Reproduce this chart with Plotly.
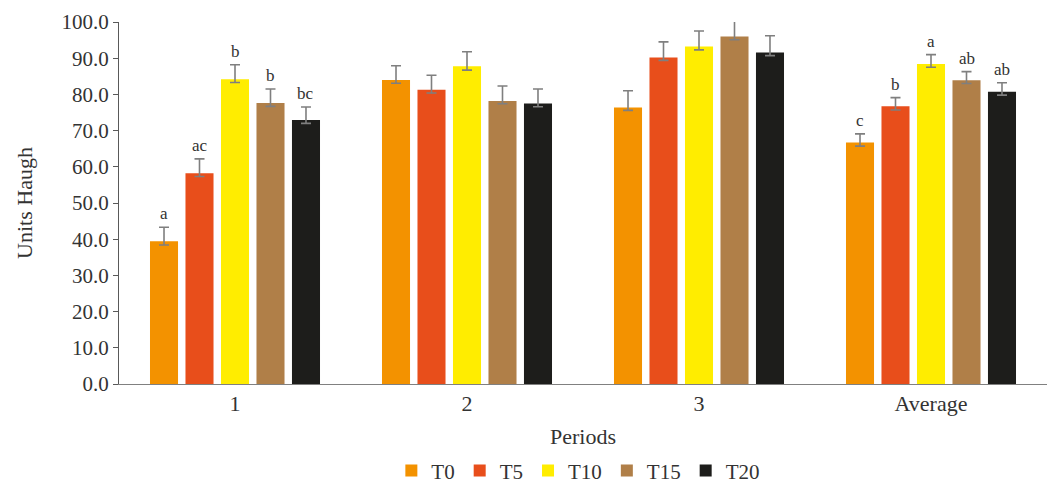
import plotly.graph_objects as go

periods = ["1", "2", "3", "Average"]
series = ["T0", "T5", "T10", "T15", "T20"]
colors = ["#F39200", "#E84E1B", "#FFED00", "#B07F48", "#1D1D1B"]

values = {
    "T0":  [39.4, 84.0, 76.4, 66.7],
    "T5":  [58.2, 81.3, 90.2, 76.7],
    "T10": [84.2, 87.8, 93.2, 88.4],
    "T15": [77.6, 78.2, 96.0, 83.9],
    "T20": [72.9, 77.5, 91.6, 80.7],
}
err_plus = {
    "T0":  [3.9, 3.9, 4.6, 2.4],
    "T5":  [4.0, 4.0, 4.3, 2.4],
    "T10": [4.0, 4.0, 4.3, 2.6],
    "T15": [3.9, 4.1, 4.2, 2.4],
    "T20": [3.6, 4.0, 4.6, 2.5],
}
err_minus = {
    "T0":  [1.0, 0.9, 0.8, 1.0],
    "T5":  [0.9, 0.9, 0.8, 1.0],
    "T10": [0.9, 1.1, 0.9, 0.9],
    "T15": [0.9, 0.8, 0.9, 0.9],
    "T20": [0.9, 0.9, 0.9, 0.9],
}
letters = {
    "1":       ["a", "ac", "b", "b", "bc"],
    "Average": ["c", "b", "a", "ab", "ab"],
}

FONT = "Liberation Serif"
bargap = 0.235

fig = go.Figure()
for s, c in zip(series, colors):
    fig.add_trace(go.Bar(
        name=s, x=periods, y=values[s], marker_color=c,
        marker_line_width=0,
        error_y=dict(type="data", symmetric=False, array=err_plus[s],
                     arrayminus=err_minus[s], color="#7f7f7f",
                     thickness=1.6, width=5),
    ))

slot = (1 - bargap) / len(series)
annotations = []
for p, labs in letters.items():
    pi = periods.index(p)
    for i, (s, lab) in enumerate(zip(series, labs)):
        top = values[s][pi] + err_plus[s][pi]
        annotations.append(dict(
            x=pi + (i - 2) * slot, y=top, xref="x", yref="y",
            text=lab, showarrow=False, yanchor="bottom", yshift=2,
            font=dict(family=FONT, size=17, color="#333333"),
        ))

fig.update_layout(
    width=1053, height=485,
    margin=dict(l=119, r=6, t=22, b=101, autoexpand=False),
    plot_bgcolor="white", paper_bgcolor="white",
    barmode="group", bargap=bargap, bargroupgap=0.21,
    font=dict(family=FONT, size=21, color="#333333"),
    showlegend=True,
    legend=dict(orientation="h", x=0.495, xanchor="center", y=-0.24,
                yanchor="middle", font=dict(family=FONT, size=21),
                itemwidth=30, tracegroupgap=0),
    annotations=annotations,
    xaxis=dict(showline=True, linecolor="#808080", linewidth=1,
               ticks="", tickfont=dict(size=22), automargin=False,
               title=dict(text="Periods", font=dict(size=22), standoff=13)),
    yaxis=dict(range=[0, 100], dtick=10, tickformat=".1f", automargin=False,
               showline=True, linecolor="#595959", linewidth=1,
               ticks="outside", ticklen=5, tickcolor="#595959",
               showgrid=False, zeroline=False, tickfont=dict(size=21),
               title=dict(text="Units Haugh", font=dict(size=22), standoff=22)),
)

fig.write_html("out.html")
